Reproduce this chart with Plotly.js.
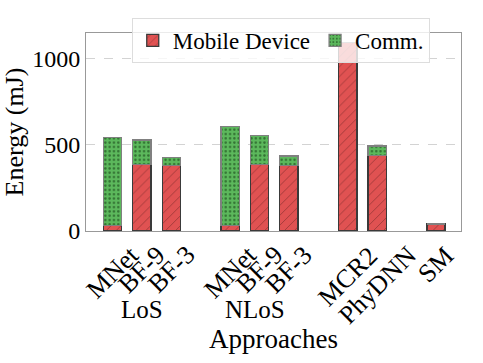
<!DOCTYPE html>
<html>
<head>
<meta charset="utf-8">
<script src="https://cdn.plot.ly/plotly-3.0.1.min.js"></script>
<style>html,body{margin:0;padding:0;background:#fff;}#chart{width:483px;height:363px;}</style>
</head>
<body>
<div id="chart"></div>
<script>
// Data
var positions = [0, 1, 2, 4, 5, 6, 8, 9, 11];
var labels = ['MNet', 'BF-9', 'BF-3', 'MNet', 'BF-9', 'BF-3', 'MCR2', 'PhyDNN', 'SM'];
var mobileEnergy = [33, 386, 380, 33, 386, 380, 1090, 438, 40];
var commEnergy = [507, 141, 47, 571, 168, 54, 0, 54, 0];
var groupNames = ['LoS', 'NLoS'];
var groupCenters = [1, 4.85];

var FONT = "'Liberation Serif', serif";

var traces = [
  {
    type: 'bar', name: 'Mobile Device',
    x: positions, y: mobileEnergy, width: 0.62,
    marker: {
      color: '#e05252',
      line: {color: '#3a3a3a', width: 1.3},
      pattern: {shape: '/', fgcolor: '#8a3030', bgcolor: '#e05252', size: 7, solidity: 0.12, fgopacity: 0.8}
    }
  },
  {
    type: 'bar', name: 'Comm.',
    x: positions, y: commEnergy, width: 0.62,
    marker: {
      color: '#5cb85c',
      line: {color: '#808080', width: 1.3},
      pattern: {shape: '.', fgcolor: '#2f6a2f', bgcolor: '#5cb85c', size: 4.3, solidity: 0.25, fgopacity: 0.9}
    }
  }
];

// rotated category labels, centred under each bar (matplotlib style)
var annotations = labels.map(function (t, i) {
  return {text: t, x: positions[i], xref: 'x', y: -0.035, yref: 'paper',
    xanchor: 'center', yanchor: 'top', textangle: -45, showarrow: false,
    font: {family: FONT, size: 26, color: '#000'}};
});
groupNames.forEach(function (g, i) {
  annotations.push({text: g, x: groupCenters[i], xref: 'x', y: -0.395, yref: 'paper',
    xanchor: 'center', yanchor: 'middle', showarrow: false,
    font: {family: FONT, size: 25, color: '#000'}});
});

var layout = {
  width: 483, height: 363,
  margin: {l: 86, r: 22, t: 33, b: 132},
  paper_bgcolor: '#fff', plot_bgcolor: '#fff',
  barmode: 'stack',
  showlegend: true,
  font: {family: FONT, size: 23, color: '#000'},
  xaxis: {
    range: [-0.9, 11.85],
    tickvals: positions, ticktext: labels, showticklabels: false,
    showgrid: false, zeroline: false,
    showline: true, mirror: true, linecolor: '#999', linewidth: 1,
    ticks: '',
    title: {text: 'Approaches', font: {family: FONT, size: 27}, standoff: 98}
  },
  yaxis: {
    range: [0, 1146],
    tickvals: [0, 500, 1000],
    tickfont: {family: FONT, size: 24},
    showgrid: true, gridcolor: '#c8c8c8', griddash: 'dash', gridwidth: 0.8,
    zeroline: false,
    showline: true, mirror: true, linecolor: '#999', linewidth: 1,
    ticks: '',
    title: {text: 'Energy (mJ)', font: {family: FONT, size: 26}, standoff: 6}
  },
  legend: {
    orientation: 'h', x: 0.122, xanchor: 'left', y: 1.076, yanchor: 'top',
    bgcolor: 'rgba(255,255,255,0.8)', bordercolor: '#dddddd', borderwidth: 1,
    font: {family: FONT, size: 23}, traceorder: 'normal'
  },
  annotations: annotations
};

Plotly.newPlot('chart', traces, layout, {displayModeBar: false, staticPlot: true});
</script>
</body>
</html>
